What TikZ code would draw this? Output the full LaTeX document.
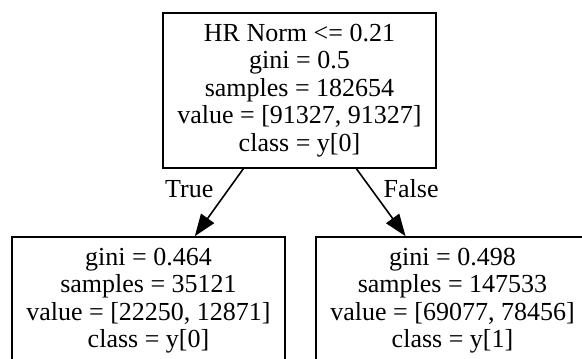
\documentclass[tikz,border=0pt]{standalone}
\usepackage{fontspec}
\setmainfont{Liberation Serif}
\usetikzlibrary{arrows.meta}

\begin{document}
\begin{tikzpicture}[->,>={Triangle[length=11pt,width=8pt]},x=0.5pt,y=-0.5pt,
                thick,font=\fontsize{13}{13.75}\selectfont,
                tree node/.style={rectangle,draw,align=center,inner sep=0pt,minimum width=136.5pt}]
  \useasboundingbox (0,0) rectangle (582,358);

  \node[tree node,minimum height=77.5pt] (root) at (299.5,90.5)
    {HR Norm <= 0.21\\gini = 0.5\\samples = 182654\\value = [91327, 91327]\\class = y[0]};
  \node[tree node,minimum height=63.75pt] (left) at (148.5,300.75)
    {gini = 0.464\\samples = 35121\\value = [22250, 12871]\\class = y[0]};
  \node[tree node,minimum height=63.75pt] (right) at (452.5,300.75)
    {gini = 0.498\\samples = 147533\\value = [69077, 78456]\\class = y[1]};

  \path
    (root) edge node [pos=0.3,left,xshift=-4pt] {True} (left)
           edge node [pos=0.3,right,xshift=2.5pt] {False} (right);
\end{tikzpicture}
\end{document}
